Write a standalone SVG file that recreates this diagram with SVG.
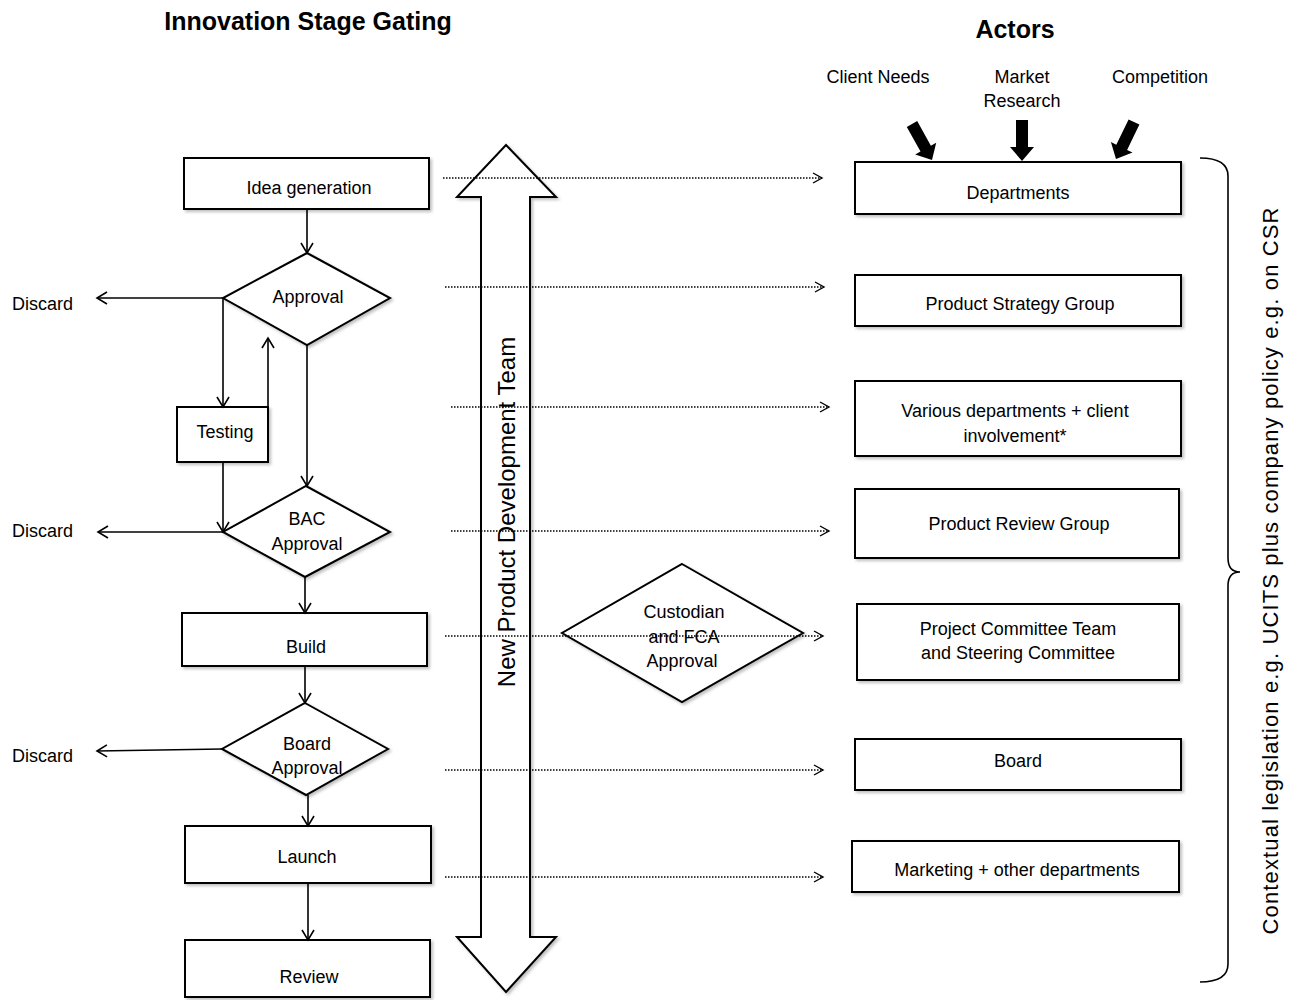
<svg xmlns="http://www.w3.org/2000/svg" width="1301" height="1000" viewBox="0 0 1301 1000">
<defs>
<style>
text{font-family:"Liberation Sans",Arial,sans-serif;font-size:18px;fill:#000}
.c{text-anchor:middle}
.t{font-size:25px;font-weight:bold}
.box{fill:#fff;stroke:#000;stroke-width:2}
.ln{fill:none;stroke:#000;stroke-width:1.6}
.dot{fill:none;stroke:#000;stroke-width:1.5;stroke-dasharray:1.5 1.5}
.blk{fill:#000}
</style>
<filter id="sh" x="-10%" y="-10%" width="120%" height="130%">
<feDropShadow dx="2" dy="2" stdDeviation="1.5" flood-color="#000" flood-opacity="0.25"/>
</filter>
<marker id="ah" markerUnits="userSpaceOnUse" markerWidth="14" markerHeight="14" refX="11" refY="7" orient="auto">
<path d="M1,1 L11,7 L1,13" fill="none" stroke="#000" stroke-width="1.6"/>
</marker>
<marker id="ad" markerUnits="userSpaceOnUse" markerWidth="12" markerHeight="12" refX="10" refY="6" orient="auto">
<path d="M1,1 L10,6 L1,11" fill="none" stroke="#000" stroke-width="1.4"/>
</marker>
</defs>
<rect width="1301" height="1000" fill="#fff"/>

<text class="t c" x="308" y="30">Innovation Stage Gating</text>
<text class="t c" x="1015" y="38">Actors</text>

<g id="npd-team">
<polygon class="box" filter="url(#sh)" points="506,145 556,197 530,197 530,937 556,937 506,992 457,937 481,937 481,197 457,197"/>
<text class="c" font-size="24" style="font-size:24px" transform="translate(515,512) rotate(-90)">New Product Development Team</text>
</g>

<g id="idea"><rect class="box" filter="url(#sh)" x="184" y="158" width="245" height="51"/><text class="c" x="309" y="194">Idea generation</text></g>
<g id="approval"><polygon class="box" filter="url(#sh)" points="307,253 390,298 307,345 223,298"/><text class="c" x="308" y="303">Approval</text></g>
<g id="testing"><rect class="box" filter="url(#sh)" x="177" y="407" width="91" height="55"/><text class="c" x="225" y="438">Testing</text></g>
<g id="bac"><polygon class="box" filter="url(#sh)" points="306,486 390,532 305,577 223,532"/><text class="c" x="307" y="525">BAC</text><text class="c" x="307" y="550">Approval</text></g>
<g id="build"><rect class="box" filter="url(#sh)" x="182" y="613" width="245" height="53"/><text class="c" x="306" y="653">Build</text></g>
<g id="board-approval"><polygon class="box" filter="url(#sh)" points="305,703 388,749 306,795 222,749"/><text class="c" x="307" y="750">Board</text><text class="c" x="307" y="774">Approval</text></g>
<g id="launch"><rect class="box" filter="url(#sh)" x="185" y="826" width="246" height="57"/><text class="c" x="307" y="863">Launch</text></g>
<g id="review"><rect class="box" filter="url(#sh)" x="185" y="940" width="245" height="57"/><text class="c" x="309" y="983">Review</text></g>

<g id="discard1"><text x="12" y="310">Discard</text></g>
<g id="discard2"><text x="12" y="537">Discard</text></g>
<g id="discard3"><text x="12" y="762">Discard</text></g>

<g id="custodian"><polygon class="box" filter="url(#sh)" points="682,564 803,633 682,702 562,633"/><text class="c" x="684" y="618">Custodian</text><text class="c" x="684" y="643">and FCA</text><text class="c" x="682" y="667">Approval</text></g>

<g id="departments"><rect class="box" filter="url(#sh)" x="855" y="162" width="326" height="52"/><text class="c" x="1018" y="199">Departments</text></g>
<g id="psg"><rect class="box" filter="url(#sh)" x="855" y="275" width="326" height="51"/><text class="c" x="1020" y="310">Product Strategy Group</text></g>
<g id="various"><rect class="box" filter="url(#sh)" x="855" y="381" width="326" height="75"/><text class="c" x="1015" y="417">Various departments + client</text><text class="c" x="1015" y="442">involvement*</text></g>
<g id="prg"><rect class="box" filter="url(#sh)" x="855" y="489" width="324" height="69"/><text class="c" x="1019" y="530">Product Review Group</text></g>
<g id="pct"><rect class="box" filter="url(#sh)" x="857" y="604" width="322" height="76"/><text class="c" x="1018" y="635">Project Committee Team</text><text class="c" x="1018" y="659">and Steering Committee</text></g>
<g id="board"><rect class="box" filter="url(#sh)" x="855" y="739" width="326" height="51"/><text class="c" x="1018" y="767">Board</text></g>
<g id="marketing"><rect class="box" filter="url(#sh)" x="852" y="841" width="327" height="51"/><text class="c" x="1017" y="876">Marketing + other departments</text></g>

<g id="client-needs"><text class="c" x="878" y="83">Client Needs</text><polygon class="blk" points="917.2,121.1 930.9,145.7 936.2,142.8 932,160 915.2,154.4 920.5,151.5 906.8,126.9"/></g>
<g id="market-research"><text class="c" x="1022" y="83">Market</text><text class="c" x="1022" y="107">Research</text><polygon class="blk" points="1016,120 1028,120 1028,147 1034,147 1022,161 1010,147 1016,147"/></g>
<g id="competition"><text class="c" x="1160" y="83">Competition</text><polygon class="blk" points="1128.6,119.4 1116.3,144.7 1110.9,142 1116,159 1132.5,152.6 1127.1,149.9 1139.4,124.6"/></g>

<g id="context">
<path class="ln" d="M1200,158 Q1228,158 1228,176 L1228,558 Q1228,572 1240,572 Q1228,572 1228,586 L1228,964 Q1228,982 1200,982"/>
<text x="0" y="0" style="font-size:22px" text-anchor="middle" textLength="727" lengthAdjust="spacing" transform="translate(1278,571) rotate(-90)">Contextual legislation e.g. UCITS plus company policy e.g. on CSR</text>
</g>

<g id="connectors">
<line class="ln" x1="307" y1="209" x2="307" y2="253" marker-end="url(#ah)"/>
<line class="ln" x1="223" y1="298" x2="97" y2="298" marker-end="url(#ah)"/>
<line class="ln" x1="223" y1="298" x2="223" y2="407" marker-end="url(#ah)"/>
<line class="ln" x1="268" y1="407" x2="268" y2="338" marker-end="url(#ah)"/>
<line class="ln" x1="307" y1="345" x2="307" y2="486" marker-end="url(#ah)"/>
<line class="ln" x1="223" y1="462" x2="223" y2="532" marker-end="url(#ah)"/>
<line class="ln" x1="223" y1="532" x2="98" y2="532" marker-end="url(#ah)"/>
<line class="ln" x1="305" y1="577" x2="305" y2="613" marker-end="url(#ah)"/>
<line class="ln" x1="305" y1="666" x2="305" y2="703" marker-end="url(#ah)"/>
<line class="ln" x1="222" y1="749" x2="97" y2="751" marker-end="url(#ah)"/>
<line class="ln" x1="308" y1="795" x2="308" y2="826" marker-end="url(#ah)"/>
<line class="ln" x1="308" y1="883" x2="308" y2="940" marker-end="url(#ah)"/>
<line class="dot" x1="443" y1="178" x2="822" y2="178" marker-end="url(#ad)"/>
<line class="dot" x1="445" y1="287" x2="824" y2="287" marker-end="url(#ad)"/>
<line class="dot" x1="451" y1="407" x2="829" y2="407" marker-end="url(#ad)"/>
<line class="dot" x1="451" y1="531" x2="829" y2="531" marker-end="url(#ad)"/>
<line class="dot" x1="445" y1="636" x2="823" y2="636" marker-end="url(#ad)"/>
<line class="dot" x1="445" y1="770" x2="823" y2="770" marker-end="url(#ad)"/>
<line class="dot" x1="445" y1="877" x2="823" y2="877" marker-end="url(#ad)"/>
</g>
</svg>
